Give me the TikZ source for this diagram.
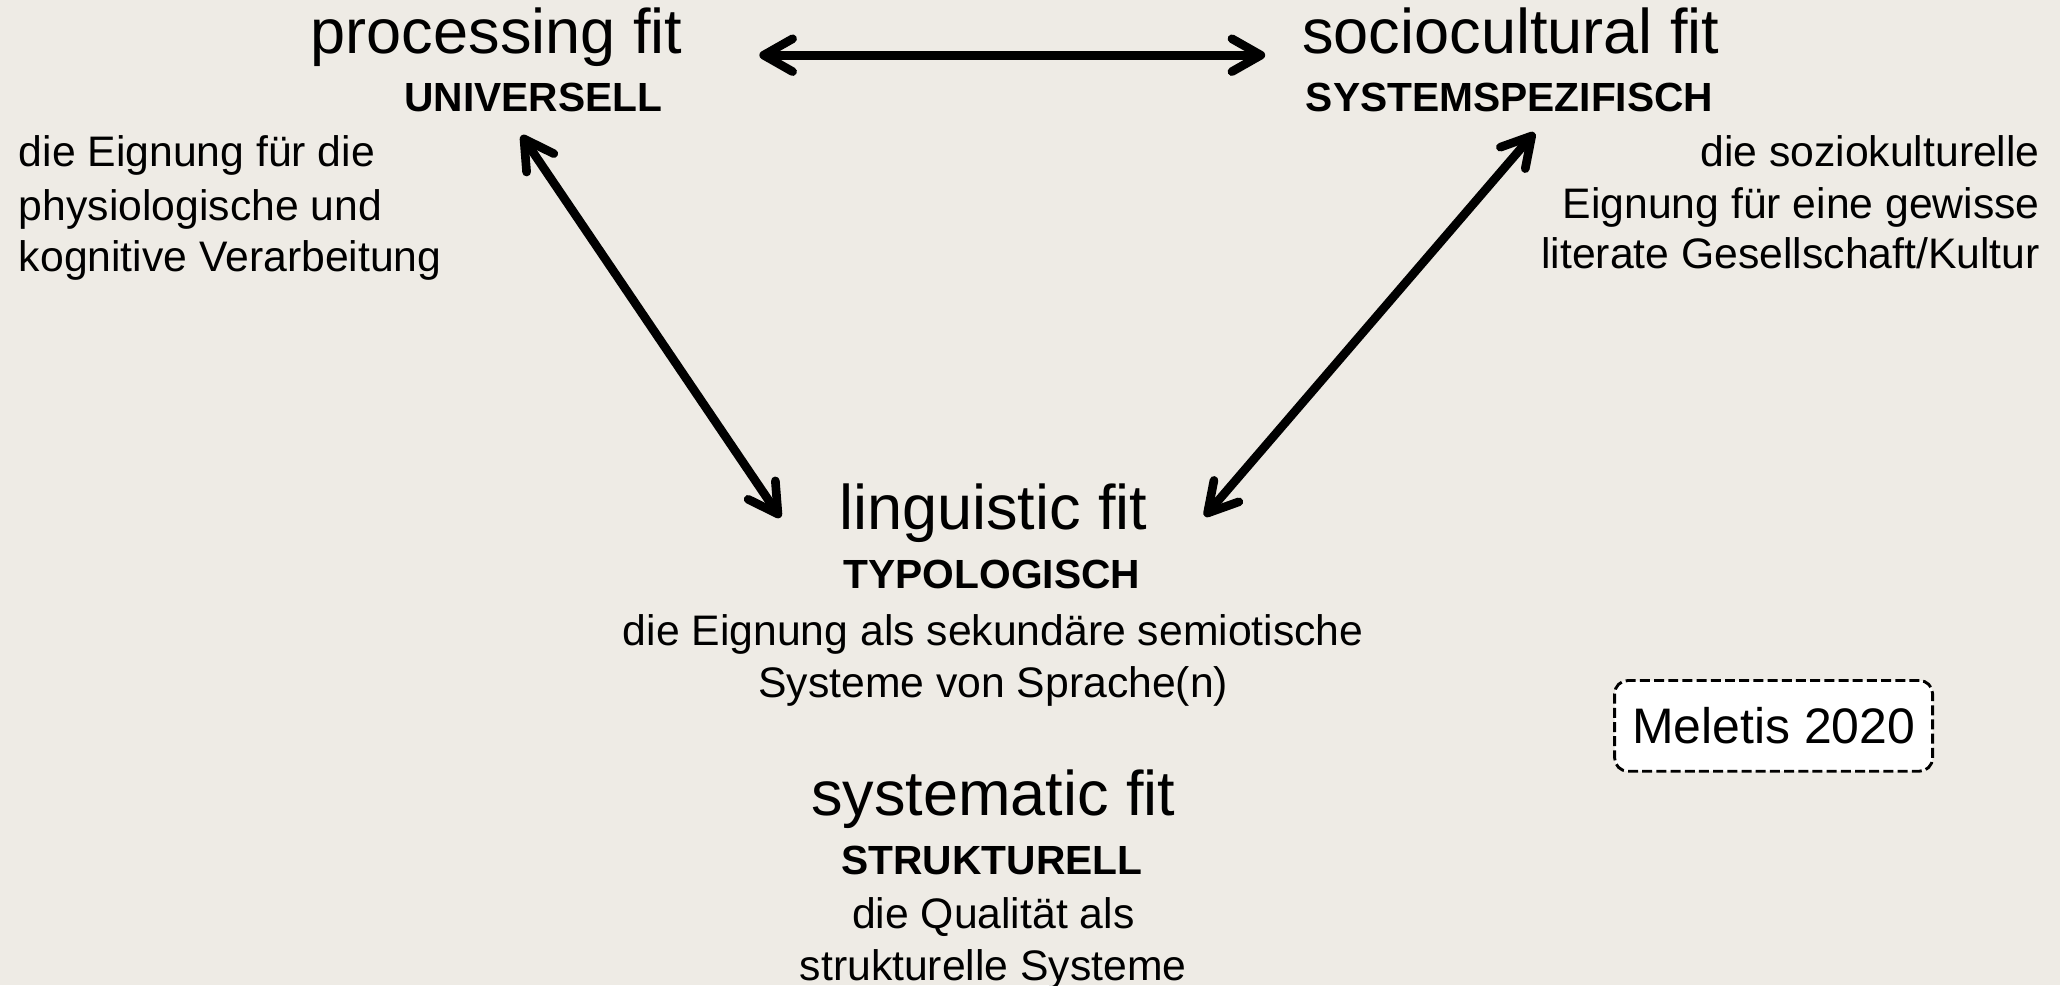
\documentclass[tikz,border=0pt]{standalone}
\usepackage{fontspec}
\setmainfont{Liberation Sans}
\usetikzlibrary{arrows.meta}
\definecolor{bgc}{RGB}{238,235,229}
\begin{document}
\begin{tikzpicture}[x=0.5pt,y=-0.5pt,
  title/.style={font=\fontsize{24}{28}\selectfont, inner sep=0pt, anchor=base},
  tag/.style={font=\fontsize{15.5}{18}\selectfont\bfseries, inner sep=0pt, anchor=base},
  desc/.style={font=\fontsize{16.25}{20}\selectfont, inner sep=0pt},
  barb/.tip={Straight Barb[length=11pt,width=12.5pt,round]},
  arr/.style={line width=3.3pt, barb-barb, line cap=round, line join=round},
  cite/.style={draw, dash pattern=on 3.8pt off 1.6pt, line width=1.1pt, fill=white,
    rounded corners=5pt, minimum width=121pt, minimum height=34.5pt,
    font=\fontsize{19}{22}\selectfont, inner sep=0pt}
]
\fill[bgc] (0,0) rectangle (1568,750);
\useasboundingbox (0,0) rectangle (1568,750);

\node[title] (proc) at (378,41) {processing fit};
\node[tag] (univ) at (406,85) {UNIVERSELL};
\node[title] (soc) at (1150,41) {sociocultural fit};
\node[tag] (syst) at (1149,85) {SYSTEMSPEZIFISCH};

\node[desc, anchor=base west] (pl1) at (14,127) {die Eignung für die};
\node[desc, anchor=base west] (pl2) at (14,168) {physiologische und};
\node[desc, anchor=base west] (pl3) at (14,207) {kognitive Verarbeitung};

\node[desc, anchor=base east] (sl1) at (1553,127) {die soziokulturelle};
\node[desc, anchor=base east] (sl2) at (1553,166) {Eignung für eine gewisse};
\node[desc, anchor=base east] (sl3) at (1553,204) {literate Gesellschaft/Kultur};

\node[title] (ling) at (756,403) {linguistic fit};
\node[tag] (typo) at (755,448) {TYPOLOGISCH};
\node[desc, anchor=base] (ll1) at (756,491) {die Eignung als sekundäre semiotische};
\node[desc, anchor=base] (ll2) at (756,531) {Systeme von Sprache(n)};

\node[title] (sysfit) at (756,621) {systematic fit};
\node[tag] (strukt) at (755,666) {STRUKTURELL};
\node[desc, anchor=base] (sf1) at (756,707) {die Qualität als};
\node[desc, anchor=base] (sf2) at (756,746) {strukturelle Systeme};

\node[cite] (cite) at (1350,552.5) {Meletis 2020};

\draw[arr] ([shift={(200,1)}]proc.base) -- ([shift={(-187,1)}]soc.base);
\draw[arr] ([shift={(-9,18)}]univ.base) -- ([shift={(-162,-9)}]ling.base);
\draw[arr] ([shift={(19,16)}]syst.base) -- ([shift={(161,-10)}]ling.base);
\end{tikzpicture}
\end{document}
